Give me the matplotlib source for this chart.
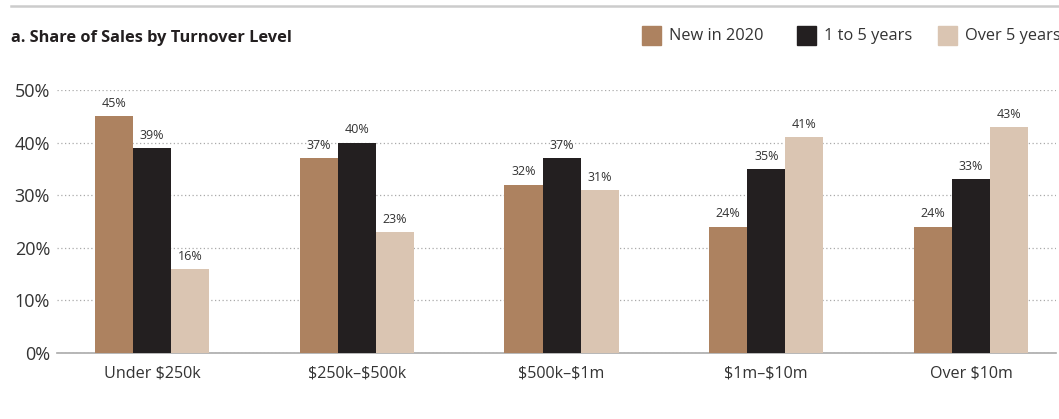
import matplotlib
matplotlib.use("Agg")
import matplotlib.pyplot as plt
import numpy as np
from matplotlib.patches import Rectangle
from matplotlib.lines import Line2D

plt.rcParams['font.family'] = ['Open Sans', 'DejaVu Sans']
plt.rcParams['text.parse_math'] = False

categories = ["Under $250k", "$250k–$500k", "$500k–$1m", "$1m–$10m", "Over $10m"]
series_names = ["New in 2020", "1 to 5 years", "Over 5 years"]
new_2020 = [45, 37, 32, 24, 24]
one_to_five = [39, 40, 37, 35, 33]
over_five = [16, 23, 31, 41, 43]
colors = ["#AD8260", "#231F20", "#DAC5B2"]

W, H = 1059, 419
fig = plt.figure(figsize=(W / 100, H / 100), dpi=100)
ax = fig.add_axes([57 / W, (H - 353) / H, (1056 - 57) / W, (353 - 90) / H])

x = np.arange(len(categories))
width = 0.1856
for i, (vals, c) in enumerate(zip([new_2020, one_to_five, over_five], colors)):
    pos = x + (i - 1) * width
    ax.bar(pos, vals, width, color=c, zorder=3)
    for p, v in zip(pos, vals):
        ax.text(p, v + 1.2, f"{v}%", ha="center", va="bottom", fontsize=9,
                color="#333333", clip_on=False)

ax.set_ylim(0, 50)
ax.set_xlim(-0.464, (1056 - 152) / 204.75)
ax.set_yticks(range(0, 51, 10))
ax.set_yticklabels([f"{t}%" for t in range(0, 51, 10)], fontsize=13, color="#333333")
ax.set_xticks(x)
ax.set_xticklabels(categories, fontsize=11.6, color="#333333")
ax.tick_params(axis="both", length=0)
ax.tick_params(axis="y", pad=5)
ax.tick_params(axis="x", pad=9)
ax.yaxis.grid(True, linestyle=(0, (1, 2)), color="#AAAAAA", linewidth=0.9, zorder=0)
for s in ["top", "right", "left"]:
    ax.spines[s].set_visible(False)
ax.spines["bottom"].set_color("#AAAAAA")
ax.spines["bottom"].set_linewidth(1.2)

# top rule and title
fig.add_artist(Line2D([11 / W, 1], [1 - 6 / H, 1 - 6 / H], color="#CCCCCC", linewidth=1.8))
fig.text(11 / W, 1 - 38 / H, "a. Share of Sales by Turnover Level", fontsize=11.8,
         fontweight="bold", color="#231F20", va="center", ha="left")

# legend
leg_x = [642, 797, 938]
for lx, name, c in zip(leg_x, series_names, colors):
    fig.add_artist(Rectangle((lx / W, 1 - 45 / H), 19 / W, 19 / H, color=c,
                             transform=fig.transFigure))
    fig.text((lx + 27) / W, 1 - 36 / H, name, fontsize=11.8, color="#333333",
             va="center", ha="left")

fig.savefig("out.png", dpi=100)
